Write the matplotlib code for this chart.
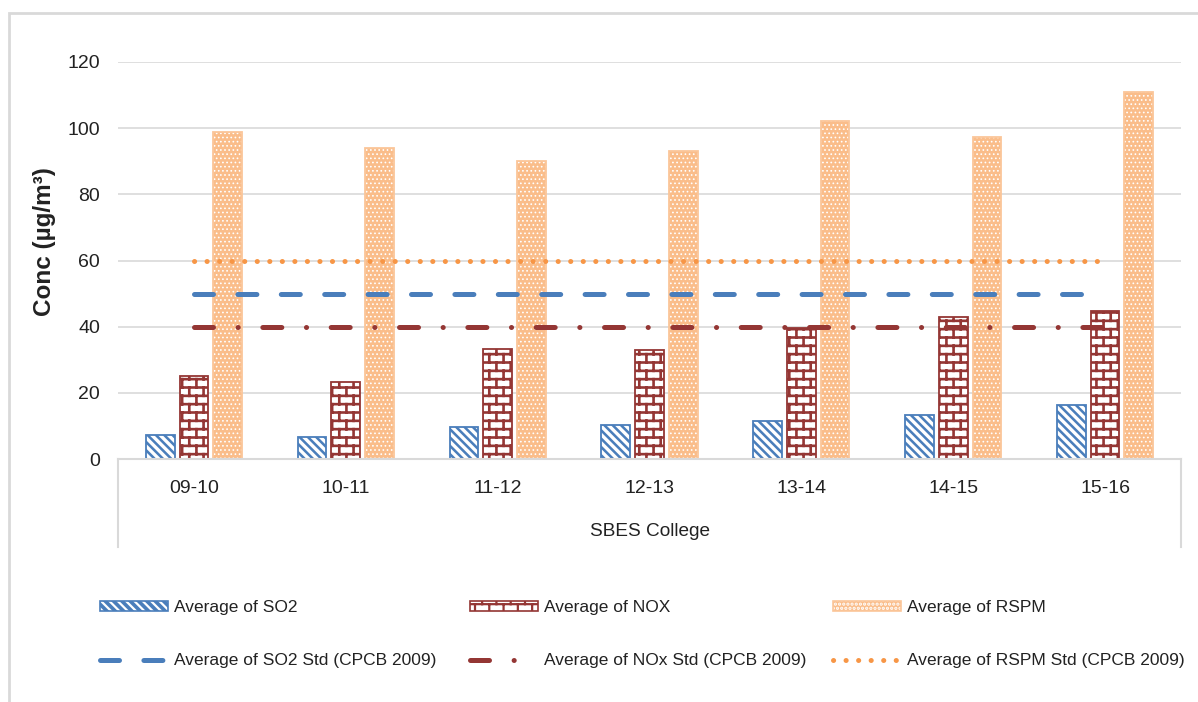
import numpy as np
import matplotlib
matplotlib.use("Agg")
import matplotlib.pyplot as plt
import matplotlib.hatch as mhatch
from matplotlib.path import Path
from matplotlib.patches import Rectangle
from matplotlib.lines import Line2D

# ---------------- data ----------------
categories = ["09-10", "10-11", "11-12", "12-13", "13-14", "14-15", "15-16"]
group_label = "SBES College"
so2 = [7.3, 6.8, 9.6, 10.4, 11.6, 13.2, 16.2]
nox = [25.2, 23.2, 33.1, 33.0, 39.7, 43.0, 44.6]
rspm = [98.7, 94.0, 90.0, 93.0, 102.1, 97.2, 111.0]
so2_std = [50] * len(categories)
nox_std = [40] * len(categories)
rspm_std = [60] * len(categories)
yticks = [0, 20, 40, 60, 80, 100, 120]
ylabel = "Conc (µg/m³)"
labels = ["Average of SO2", "Average of NOX", "Average of RSPM",
          "Average of SO2 Std (CPCB 2009)", "Average of NOx Std (CPCB 2009)",
          "Average of RSPM Std (CPCB 2009)"]

# ---------------- brick hatch ('*' replaced) ----------------
class BrickHatch(mhatch.HatchPatternBase):
    def __init__(self, hatch, density):
        self.segs = []
        if hatch.count('*') > 0:
            R, C = 12, 7
            ys = [(r + 0.5) / R for r in range(R)]
            for r in range(R):
                y0 = ys[r]
                self.segs.append(((0.0, y0), (1.0, y0)))
                off = 0.25 / C if r % 2 == 0 else 0.75 / C
                for c in range(C):
                    xx = c / C + off
                    if r < R - 1:
                        self.segs.append(((xx, y0), (xx, ys[r + 1])))
                    else:
                        self.segs.append(((xx, y0), (xx, 1.0)))
                        self.segs.append(((xx, 0.0), (xx, ys[0])))
        self.num_vertices = len(self.segs) * 2

    def set_vertices_and_codes(self, vertices, codes):
        for i, (a, b) in enumerate(self.segs):
            vertices[2 * i] = a
            vertices[2 * i + 1] = b
            codes[2 * i] = Path.MOVETO
            codes[2 * i + 1] = Path.LINETO


for i, t in enumerate(mhatch._hatch_types):
    if t.__name__ == "Stars":
        mhatch._hatch_types[i] = BrickHatch

# ---------------- style ----------------
plt.rcParams["font.family"] = ["Liberation Sans", "DejaVu Sans"]
plt.rcParams["lines.scale_dashes"] = False
plt.rcParams["hatch.linewidth"] = 1.6
TXT = "#222222"
GRID = "#d9d9d9"
BLUE = "#4a7ebb"
RED = "#943634"
ORANGE = "#fabd8a"
ORANGE_EDGE = "#fbc69a"
LORANGE = "#f79646"
FS_TICK = 14
FS_LEG = 12.5

W, H = 1198, 702
fig = plt.figure(figsize=(W / 100, H / 100), dpi=100)
L, R_, B, T = 118, 1181, 459, 62
ax = fig.add_axes([L / W, 1 - B / H, (R_ - L) / W, (B - T) / H])

x = np.arange(len(categories))
bw = 0.19
off = 0.222

SO2_STYLE = dict(face=BLUE, hcol="white", hatch="\\\\\\\\", edge=BLUE, lwh=2.4)
NOX_STYLE = dict(face="white", hcol=RED, hatch="*", edge=RED, lwh=1.9)
RSPM_STYLE = dict(face=ORANGE, hcol="white", hatch="....", edge=ORANGE_EDGE, lwh=0.7)


def hbar(xpos, vals, face, hcol, hatch, edge, lwh):
    with plt.rc_context({"hatch.linewidth": lwh}):
        p1 = ax.bar(xpos, vals, bw, color=face, edgecolor=hcol, hatch=hatch,
                    linewidth=0, zorder=2)
    for p in p1:
        if hasattr(p, "set_hatch_linewidth"):
            p.set_hatch_linewidth(lwh)
    ax.bar(xpos, vals, bw, fill=False, edgecolor=edge, linewidth=1.3, zorder=2)


hbar(x - off, so2, **SO2_STYLE)
hbar(x, nox, **NOX_STYLE)
hbar(x + off, rspm, **RSPM_STYLE)

px = 72 / 100  # points per pixel
SO2_LS = dict(color=BLUE, lw=5 * px, dash_capstyle="round",
              linestyle=(0, (19 * px, 24.4 * px)))
NOX_LS = dict(color=RED, lw=5 * px, dash_capstyle="round",
              linestyle=(0, (19 * px, 24.6 * px, 0.1, 24.6 * px)))
RSPM_LS = dict(color=LORANGE, lw=5 * px, dash_capstyle="round",
               linestyle=(0, (0.1, 12.4 * px)))
ax.plot(x, so2_std, zorder=3, **SO2_LS)
ax.plot(x, nox_std, zorder=3, **NOX_LS)
ax.plot(x, rspm_std, zorder=3, **RSPM_LS)

ax.set_xlim(-0.5, len(categories) - 0.5)
ax.set_ylim(0, 120)
ax.set_yticks(yticks)
ax.set_yticklabels([str(v) for v in yticks])
ax.set_xticks(x)
ax.set_xticklabels(categories)
ax.tick_params(axis="y", length=0, pad=13, labelsize=FS_TICK, labelcolor=TXT)
ax.tick_params(axis="x", length=0, pad=15, labelsize=FS_TICK, labelcolor=TXT)
ax.grid(axis="y", color=GRID, lw=1.2, zorder=0)
ax.set_axisbelow(True)
for s in ["left", "right", "top"]:
    ax.spines[s].set_visible(False)
ax.spines["bottom"].set_color(GRID)
ax.spines["bottom"].set_linewidth(1.5)

# category box lines
depth = (547 - 459) / (B - T)
for xx in (0, 1):
    ax.plot([xx, xx], [0, -depth], transform=ax.transAxes, color=GRID,
            lw=1.5, clip_on=False)
ax.text(0.5, -(531 - 459) / (B - T), group_label, transform=ax.transAxes,
        ha="center", va="center", fontsize=13.7, color=TXT)

fig.text(45 / W, 1 - 242 / H, ylabel, rotation=90, ha="center", va="center",
         fontsize=17.5, fontweight="bold", color=TXT)

# border
fig.patches.append(Rectangle((9 / W, -0.1), 1.2, 1 - 13 / H + 0.1,
                             transform=fig.transFigure, fill=False,
                             edgecolor=GRID, lw=2))


# legend: one legend per column
def hpatch(face, hcol, hatch, edge, lwh):
    with plt.rc_context({"hatch.linewidth": lwh}):
        a = Rectangle((0, 0), 1, 1, facecolor=face, edgecolor=hcol,
                      hatch=hatch, lw=0)
    if hasattr(a, "set_hatch_linewidth"):
        a.set_hatch_linewidth(lwh)
    b = Rectangle((0, 0), 1, 1, fill=False, edgecolor=edge, lw=1.2)
    return (a, b)


cols = [
    (100, hpatch(**SO2_STYLE), Line2D([], [], **SO2_LS), labels[0], labels[3]),
    (470, hpatch(**NOX_STYLE), Line2D([], [], **NOX_LS), labels[1], labels[4]),
    (833, hpatch(**RSPM_STYLE), Line2D([], [], **RSPM_LS), labels[2], labels[5]),
]
for xpix, hp, hl, t1, t2 in cols:
    leg = fig.legend([hp, hl], [t1, t2], loc="upper left",
                     bbox_to_anchor=(xpix / W, 1 - 600 / H), frameon=False,
                     fontsize=FS_LEG, handlelength=3.9, handleheight=0.55,
                     handletextpad=0.35, labelspacing=2.2,
                     borderpad=0, borderaxespad=0)
    for t in leg.get_texts():
        t.set_color(TXT)

fig.savefig("out.png", dpi=100)
